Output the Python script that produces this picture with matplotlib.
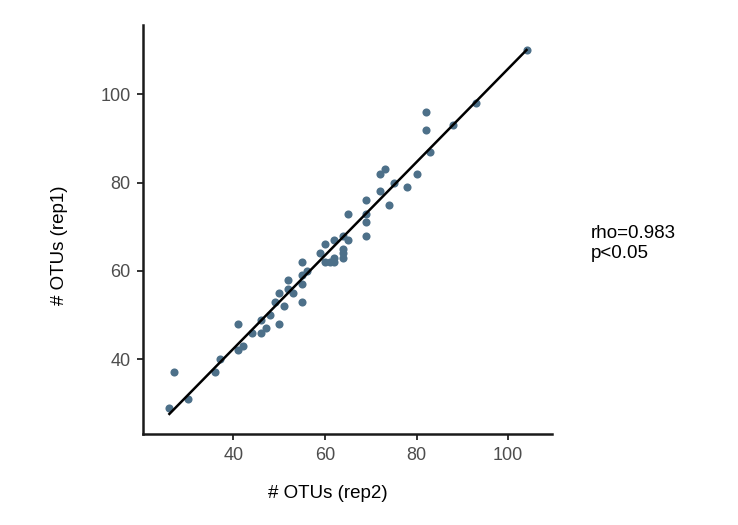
import matplotlib
matplotlib.use("Agg")
import matplotlib.pyplot as plt
import numpy as np

# OTU counts per sample, replicate 2 (x) vs replicate 1 (y)
rep2 = [26, 27, 30, 36, 37, 41, 41, 42, 44, 46, 46, 47, 48, 49, 50, 50, 51,
        52, 52, 53, 55, 55, 55, 55, 56, 59, 60, 60, 61, 62, 62, 62, 64, 64,
        64, 64, 65, 65, 69, 69, 69, 69, 72, 73, 72, 74, 75, 78, 80, 83, 82,
        82, 88, 93, 104]
rep1 = [29, 37, 31, 37, 40, 48, 42, 43, 46, 49, 46, 47, 50, 53, 55, 48, 52,
        58, 56, 55, 62, 59, 57, 53, 60, 64, 66, 62, 62, 62, 67, 63, 68, 65,
        64, 63, 73, 67, 76, 73, 71, 68, 82, 83, 78, 75, 80, 79, 82, 87, 96,
        92, 93, 98, 110]
x_ticks = [40, 60, 80, 100]
y_ticks = [40, 60, 80, 100]
stats_text = ["rho=0.983", "p<0.05"]

POINT = "#4D7089"
TICK_TXT = "#4D4D4D"
FONT = "Liberation Sans"

plt.rcParams["font.family"] = [FONT, "DejaVu Sans"]

fig = plt.figure(figsize=(7.38, 5.25), dpi=100)
ax = fig.add_axes([143.3 / 738, 1 - 434.3 / 525, 408.4 / 738, 409.3 / 525])

x = np.array(rep2, dtype=float)
y = np.array(rep1, dtype=float)
ax.scatter(x, y, s=34, color=POINT, linewidths=0, zorder=2)

# linear fit across the data range (geom_smooth lm, no band)
k, b = np.polyfit(x, y, 1)
xs = np.array([x.min(), x.max()])
ax.plot(xs, k * xs + b, color="black", lw=1.8, zorder=3)

ax.set_xlim(20.3, 109.5)
ax.set_ylim(23.0, 115.7)
ax.set_xticks(x_ticks)
ax.set_yticks(y_ticks)

for side in ("top", "right"):
    ax.spines[side].set_visible(False)
for side in ("left", "bottom"):
    ax.spines[side].set_linewidth(1.8)
    ax.spines[side].set_color("#1a1a1a")
    ax.spines[side].set_capstyle("projecting")
ax.tick_params(length=4, width=1.4, color="#333333", labelcolor=TICK_TXT,
               labelsize=13, pad=5)

ax.set_xlabel("# OTUs (rep2)", fontsize=13.5, va="center", ha="center")
ax.set_ylabel("# OTUs (rep1)", fontsize=13.5, va="center", ha="center")
ax.xaxis.set_label_coords((328 - 143.3) / 408.4, (434.3 - 494) / 409.3)
ax.yaxis.set_label_coords((60 - 143.3) / 408.4, (434.3 - 245) / 409.3)

fig.text(591 / 738, 1 - 237.5 / 525, stats_text[0], fontsize=13.5,
         va="baseline", ha="left", color="black")
fig.text(591 / 738, 1 - 258.5 / 525, stats_text[1], fontsize=13.5,
         va="baseline", ha="left", color="black")

fig.savefig("out.png", dpi=100, facecolor="white")
